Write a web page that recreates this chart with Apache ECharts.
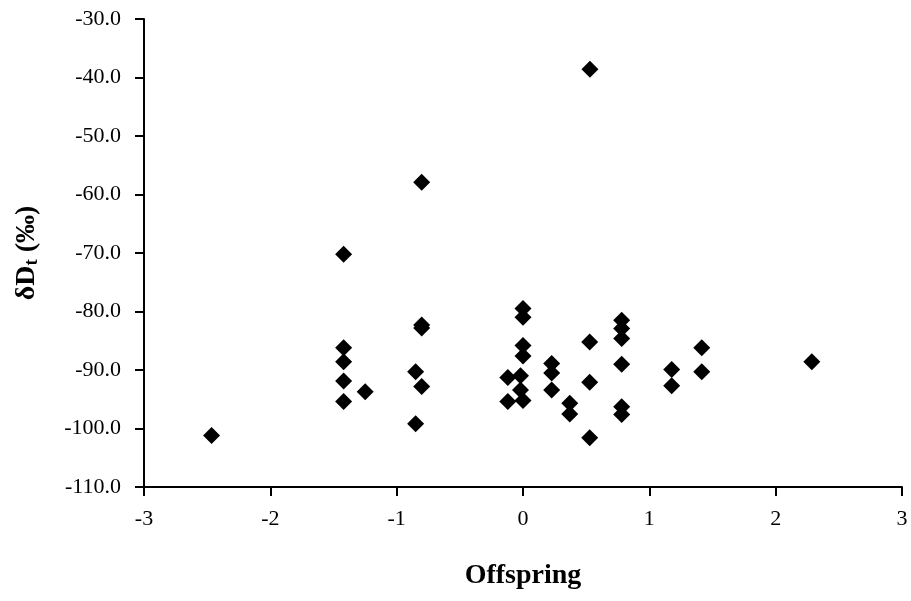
<!DOCTYPE html>
<html>
<head>
<meta charset="utf-8">
<script src="https://cdn.jsdelivr.net/npm/echarts@6/dist/echarts.min.js"></script>
<style>
  html, body { margin: 0; padding: 0; background: #fff; }
  #chart { width: 911px; height: 601px; }
</style>
</head>
<body>
<div id="chart"></div>
<script>
// Offspring score vs. δDt (‰)
const offspring = [
  -2.465, -1.42, -1.42, -1.42, -1.42, -1.42, -1.249,
  -0.85, -0.85, -0.802, -0.802, -0.802, -0.802,
  -0.12, -0.12, -0.02, -0.02, 0, 0, 0, 0, 0,
  0.227, 0.227, 0.227, 0.37, 0.37,
  0.53, 0.528, 0.528, 0.528,
  0.781, 0.781, 0.781, 0.781, 0.781, 0.781,
  1.177, 1.177, 1.415, 1.415, 2.286
];
const deltaD = [
  -101.2, -70.2, -86.2, -88.6, -91.9, -95.4, -93.7,
  -90.3, -99.2, -57.9, -82.3, -82.8, -92.8,
  -91.3, -95.4, -91.0, -93.4, -79.5, -81.0, -85.8, -87.6, -95.2,
  -88.9, -90.5, -93.4, -95.7, -97.5,
  -38.6, -85.2, -92.1, -101.6,
  -81.5, -82.9, -84.6, -89.0, -96.3, -97.6,
  -89.9, -92.7, -86.2, -90.3, -88.6
];
const points = offspring.map((x, i) => [x, deltaD[i]]);

const font = 'Liberation Serif, Times New Roman, serif';
const chart = echarts.init(document.getElementById('chart'), null, { renderer: 'canvas' });
chart.setOption({
  animation: false,
  backgroundColor: '#fff',
  grid: { left: 144, right: 9, top: 19, bottom: 114 },
  xAxis: {
    type: 'value',
    min: -3, max: 3, interval: 1,
    name: 'Offspring',
    nameLocation: 'middle',
    nameGap: 75,
    nameTextStyle: { fontFamily: font, fontWeight: 'bold', fontSize: 28, color: '#000' },
    axisLine: { onZero: false, lineStyle: { color: '#000', width: 2 } },
    axisTick: { show: true, length: 9, lineStyle: { color: '#000', width: 2 } },
    axisLabel: { margin: 21, fontFamily: font, fontSize: 22, color: '#000' },
    splitLine: { show: false }
  },
  yAxis: {
    type: 'value',
    min: -110, max: -30, interval: 10,
    name: '{a|δD}{s|t}{a| (‰)}',
    nameLocation: 'middle',
    nameGap: 102,
    nameRotate: 90,
    nameTextStyle: {
      color: '#000',
      rich: {
        a: { fontFamily: font, fontWeight: 'bold', fontSize: 28, color: '#000' },
        s: { fontFamily: font, fontWeight: 'bold', fontSize: 19, color: '#000', padding: [12, 0, 0, 0] }
      }
    },
    axisLine: { onZero: false, lineStyle: { color: '#000', width: 2 } },
    axisTick: { show: true, length: 9, lineStyle: { color: '#000', width: 2 } },
    axisLabel: {
      margin: 23, fontFamily: font, fontSize: 22, color: '#000',
      formatter: v => v.toFixed(1)
    },
    splitLine: { show: false }
  },
  series: [{
    type: 'scatter',
    data: points,
    symbol: 'diamond',
    symbolSize: 17,
    itemStyle: { color: '#000', opacity: 1 }
  }]
});
</script>
</body>
</html>
